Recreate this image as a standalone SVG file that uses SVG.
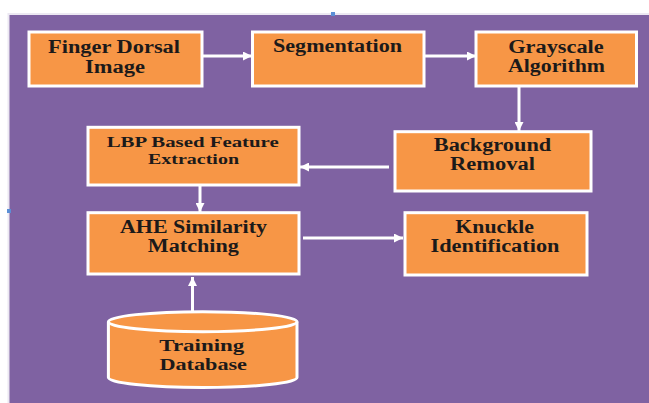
<svg xmlns="http://www.w3.org/2000/svg" width="649" height="403" viewBox="0 0 649 403">
<style>
.box{fill:#F79646;stroke:#FFFFFF;stroke-width:3}
.lbl{font-family:"Liberation Serif","Times New Roman",serif;font-weight:bold;font-size:18px;fill:#1c1a1a;text-anchor:middle}
.sm{font-size:15px}
.db{font-size:17px}
.conn{stroke:#FFFFFF;stroke-width:3;fill:none;marker-end:url(#ah)}
</style>
<defs>
<marker id="ah" markerUnits="userSpaceOnUse" markerWidth="9" markerHeight="9" refX="9" refY="4.5" orient="auto">
<path d="M0,0 L9,4.5 L0,9 z" fill="#FFFFFF"/>
</marker>
</defs>
<rect x="0" y="0" width="649" height="403" fill="#FFFFFF"/>
<rect x="8.5" y="14" width="642" height="392" fill="#7F62A2" stroke="#ECE8F2" stroke-width="2"/>
<rect x="331" y="12" width="4" height="4" fill="#5B8FD6"/>
<rect x="7" y="209" width="4" height="4" fill="#5B8FD6"/>

<g id="connectors">
<line class="conn" x1="202" y1="56" x2="252" y2="56"/>
<line class="conn" x1="424" y1="56" x2="476" y2="56"/>
<line class="conn" x1="519" y1="86" x2="519" y2="131"/>
<line class="conn" x1="389" y1="167" x2="300" y2="167"/>
<line class="conn" x1="200" y1="185" x2="200" y2="212"/>
<line class="conn" x1="303" y1="238" x2="403" y2="238"/>
<line class="conn" x1="192.5" y1="321" x2="192.5" y2="277"/>
</g>

<g id="finger-dorsal-image">
<rect class="box" x="29" y="32" width="173" height="54"/>
<text class="lbl" x="114" y="52.7" textLength="132" lengthAdjust="spacingAndGlyphs">Finger Dorsal</text>
<text class="lbl" x="115" y="73.3" textLength="60" lengthAdjust="spacingAndGlyphs">Image</text>
</g>

<g id="segmentation">
<rect class="box" x="252.5" y="32" width="171.5" height="54"/>
<text class="lbl" x="337.5" y="51.7" textLength="129" lengthAdjust="spacingAndGlyphs">Segmentation</text>
</g>

<g id="grayscale-algorithm">
<rect class="box" x="476" y="32" width="160.5" height="54"/>
<text class="lbl" x="556" y="52.7" textLength="95.5" lengthAdjust="spacingAndGlyphs">Grayscale</text>
<text class="lbl" x="556.5" y="71.7" textLength="97" lengthAdjust="spacingAndGlyphs">Algorithm</text>
</g>

<g id="background-removal">
<rect class="box" x="395" y="131.7" width="196" height="59.3"/>
<text class="lbl" x="492.5" y="150.7" textLength="117.5" lengthAdjust="spacingAndGlyphs">Background</text>
<text class="lbl" x="492.4" y="170" textLength="85" lengthAdjust="spacingAndGlyphs">Removal</text>
</g>

<g id="lbp-feature-extraction">
<rect class="box" x="88" y="127.3" width="211" height="57.7"/>
<text class="lbl sm" x="192.7" y="146.7" textLength="172" lengthAdjust="spacingAndGlyphs">LBP Based Feature</text>
<text class="lbl sm" x="193.5" y="164" textLength="91" lengthAdjust="spacingAndGlyphs">Extraction</text>
</g>

<g id="ahe-similarity-matching">
<rect class="box" x="88" y="212.7" width="211" height="61.3"/>
<text class="lbl" x="193.5" y="233.3" textLength="147" lengthAdjust="spacingAndGlyphs">AHE Similarity</text>
<text class="lbl" x="193.3" y="251.7" textLength="91" lengthAdjust="spacingAndGlyphs">Matching</text>
</g>

<g id="knuckle-identification">
<rect class="box" x="405" y="212.7" width="182" height="62.3"/>
<text class="lbl" x="494.7" y="233.3" textLength="78.7" lengthAdjust="spacingAndGlyphs">Knuckle</text>
<text class="lbl" x="495" y="251.7" textLength="129" lengthAdjust="spacingAndGlyphs">Identification</text>
</g>

<g id="training-database">
<path class="box" d="M108.4,321.7 A94.3,10 0 0 1 297,321.7 V377.5 A94.3,10 0 0 1 108.4,377.5 Z"/>
<path d="M108.4,321.7 A94.3,10 0 0 0 297,321.7" fill="none" stroke="#FFFFFF" stroke-width="3"/>
<text class="lbl db" x="201.8" y="351" textLength="85" lengthAdjust="spacingAndGlyphs">Training</text>
<text class="lbl db" x="203.2" y="370" textLength="87.6" lengthAdjust="spacingAndGlyphs">Database</text>
</g>
</svg>
